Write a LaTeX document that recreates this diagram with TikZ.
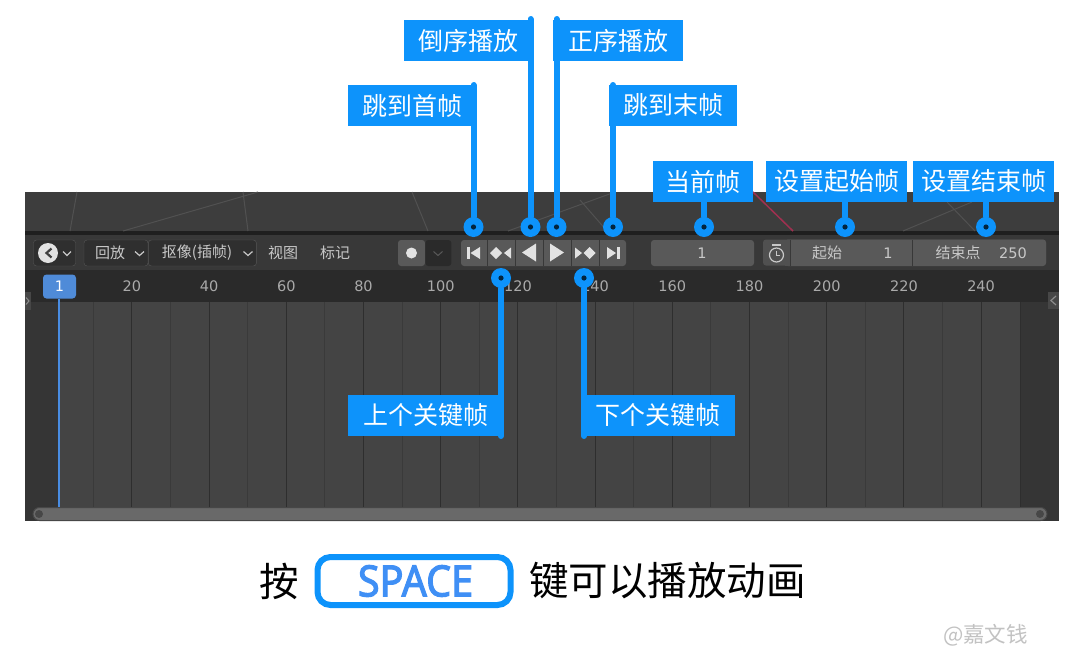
\documentclass[tikz,border=0pt]{standalone}
\usepackage{fontspec}
\usepackage{tikz}
\usetikzlibrary{positioning}
\newfontfamily\cjk{Noto Sans CJK SC}
\newfontfamily\uifont{DejaVu Sans}
\newfontfamily\keyfont[FakeBold=2.6]{Noto Sans}
\definecolor{callblue}{HTML}{0D93FB}
\definecolor{keyblue}{HTML}{3F8FF5}
\definecolor{headbg}{HTML}{3D3D3D}
\definecolor{barbg}{HTML}{383838}
\definecolor{rulerbg}{HTML}{2A2A2A}
\definecolor{trackbg}{HTML}{444444}
\definecolor{sidebg}{HTML}{353535}
\definecolor{btnbg}{HTML}{595959}
\definecolor{menubg}{HTML}{2F2F2F}
\definecolor{uitext}{HTML}{C8C8C8}
\definecolor{icontext}{HTML}{E2E2E2}
\definecolor{gridminor}{HTML}{3A3A3A}
\definecolor{gridmajor}{HTML}{2E2E2E}
\definecolor{headline}{HTML}{515151}
\definecolor{redline}{HTML}{A03050}
\begin{document}
\begin{tikzpicture}[
    x=1pt, y=-1pt,
    callout/.style={rectangle, fill=callblue, text=white, minimum height=41pt, inner sep=0pt, font=\cjk\fontsize{25}{25}\selectfont},
    leader/.style={draw=callblue, line width=6pt, line cap=round},
    pin/.style={circle, fill=callblue, minimum size=20pt, inner sep=0pt, path picture={\fill[black!75!callblue] (path picture bounding box.center) circle (2.6pt);}},
    btn/.style={rectangle, fill=btnbg, minimum height=26pt, inner sep=0pt},
    menu/.style={rectangle, rounded corners=3pt, fill=menubg, draw=barbg!85!white, minimum height=26pt, inner sep=0pt},
    uilabel/.style={text=uitext, inner sep=0pt, font=\cjk\fontsize{15}{15}\selectfont},
    number/.style={text=uitext, inner sep=0pt, font=\uifont\fontsize{14.5}{14.5}\selectfont},
    tick/.style={text=uitext!85!black, inner sep=0pt, font=\uifont\fontsize{14.5}{14.5}\selectfont},
    icon/.style={fill=icontext},
    chev/.style={draw=uitext, line width=1.2pt},
    faint/.style={draw=headline, line width=1pt}
]
\useasboundingbox (0,0) rectangle (1080,659);

% Panel background
\fill[headbg] (25,192) rectangle (1059,232);
\fill[black!88] (25,231) rectangle (1059,235);
\fill[barbg] (25,235) rectangle (1059,270);
\fill[rulerbg] (25,270) rectangle (1059,302);
\fill[sidebg] (25,302) rectangle (1059,521);
\fill[trackbg] (58.5,302) rectangle (1020,507);
\draw[gridmajor, line width=1pt] (1020.5,302) -- (1020.5,507);

% Lines in the header
\draw[faint] (77,192) -- (70,231);
\draw[faint] (258,192) -- (123,231);
\draw[faint] (243,192) -- (248,231);
\draw[faint] (412,192) -- (428,231);
\draw[faint] (580,200) -- (607,231);
\draw[faint] (508,231) -- (615,192);
\draw[faint] (903,231) -- (972,202);
\draw[faint] (947,202) -- (975,231);
\draw[redline, line width=1.5pt] (753,192) -- (793,231);

% Frame grid and ruler
\foreach \f in {10,30,...,230} \draw[gridminor, line width=1pt] ({54.7+3.86*\f},302) -- ({54.7+3.86*\f},507);
\foreach \f in {20,40,...,240} {
    \draw[gridmajor, line width=1pt] ({54.7+3.86*\f},302) -- ({54.7+3.86*\f},507);
    \node[tick] (frame\f) at ({54.7+3.86*\f},286.5) {\f};
}

% Left of the toolbar
\node[menu, minimum width=42pt] (editor) at (54.5,253) {};
\fill[icontext] (48,253) circle (10pt);
\draw[black!75, line width=2.2pt] (51.5,248.5) -- (46.5,253) -- (51.5,257.5);
\draw[chev] (63,251.5) -- (67,255.5) -- (71,251.5);
\node[menu, minimum width=64pt] (playmenu) at (116,253) {};
\node[menu, minimum width=108pt, right=0pt of playmenu] (keyingmenu) {};
\node[uilabel] (playback) at (110,253) {回放};
\node[uilabel] (keying) at (197,253) {抠像(插帧)};
\draw[chev] (135,251.5) -- (139.5,255.5) -- (144,251.5);
\draw[chev] (243.5,251.5) -- (248,255.5) -- (252.5,251.5);
\node[uilabel] (view) at (283,253) {视图};
\node[uilabel] (marker) at (335,253) {标记};

% Record button
\node[btn, rounded corners=3pt, minimum width=27pt] (record) at (411.5,253) {};
\fill[icontext] (record.center) circle (5.5pt);
\node[btn, fill=barbg!75!black, rounded corners=3pt, minimum width=26pt, right=0pt of record] (recordopt) {};
\draw[draw=btnbg, line width=1pt] (433.5,251.5) -- (438,255.5) -- (442.5,251.5);

% Transport buttons
\node[btn, rounded corners=3pt, minimum width=165pt] (transport) at (543.5,253) {};
\foreach \x in {487,515,543,571,599} \draw[barbg, line width=1pt] (\x,240) -- (\x,266);
\fill[icon] (466.7,247) rectangle (470,259);
\fill[icon] (470.5,253) -- (480,247) -- (480,259) -- cycle;
\fill[icon] (496,247) -- (502,253) -- (496,259) -- (490,253) -- cycle;
\fill[icon] (504,253) -- (511,247.5) -- (511,258.5) -- cycle;
\fill[icon] (522,252.5) -- (536,243.5) -- (536,261.5) -- cycle;
\fill[icon] (564,252.5) -- (550,243.5) -- (550,261.5) -- cycle;
\fill[icon] (582,253) -- (575,247.5) -- (575,258.5) -- cycle;
\fill[icon] (589.5,247) -- (595.5,253) -- (589.5,259) -- (583.5,253) -- cycle;
\fill[icon] (616,253) -- (607,247) -- (607,259) -- cycle;
\fill[icon] (617,247) rectangle (620,259);

% Frame fields
\node[btn, rounded corners=3pt, minimum width=103pt] (current) at (702.5,253) {};
\node[number] (currentval) at (702,253) {1};
\node[btn, fill=barbg!88!white, rounded corners=3pt, minimum width=283pt] (range) at (904.5,252.5) {};
\fill[btnbg, rounded corners=3pt] (785,239.5) rectangle (1046,266);
\fill[barbg!88!white] (785,239.5) rectangle (790,266);
\draw[barbg, line width=1pt] (790,240) -- (790,266);
\draw[barbg, line width=1pt] (912,240) -- (912,266);
\draw[uitext, line width=1.2pt] (776.5,255) circle (7pt);
\draw[uitext, line width=1.2pt] (776.5,250.5) -- (776.5,255.5) -- (780,255.5);
\draw[uitext, line width=1.2pt] (772,245) -- (781,245);
\node[uilabel] (startlabel) at (827,253) {起始};
\node[number] (startval) at (888,253) {1};
\node[uilabel] (endlabel) at (958,253) {结束点};
\node[number] (endval) at (1013,253) {250};

% Side arrows
\fill[black!72] (25,292) rectangle (31,310);
\draw[uitext!70!black, line width=1pt] (26,297.5) -- (29,301) -- (26,304.5);
\fill[black!72] (1048,292) rectangle (1059,309);
\draw[uitext!70!black, line width=1.2pt] (1056,296) -- (1051,300.5) -- (1056,305);

% Scroll bar
\node[rectangle, rounded corners=6.5pt, fill=white!41!black, draw=black!72, line width=1pt, minimum width=1014pt, minimum height=13pt, inner sep=0pt] (scroll) at (540,514) {};
\fill[black!72] (39,514) circle (4pt);
\fill[black!72] (1040,514) circle (4pt);

% Playhead
\node[rectangle, rounded corners=3.5pt, fill=keyblue!75!gray, text=white, minimum width=33pt, minimum height=24pt, inner sep=0pt, font=\uifont\fontsize{14.5}{14.5}\selectfont] (playhead) at (59.5,286.5) {1};
\coordinate (playfoot) at (58.5,507);
\draw[keyblue!85!gray, line width=2pt] (playhead.south -| playfoot) -- (playfoot);

% Callouts
\node[callout, minimum width=129pt] (boxfirst) at (412.5,105.5) {跳到首帧};
\node[callout, minimum width=130pt] (boxback) at (468.5,40.5) {倒序播放};
\node[callout, minimum width=130pt] (boxplay) at (618,40.5) {正序播放};
\node[callout, minimum width=128pt] (boxlast) at (673,105.5) {跳到末帧};
\node[callout, minimum width=100pt] (boxcurrent) at (703,181.5) {当前帧};
\node[callout, minimum width=141pt] (boxstart) at (836.5,181.5) {设置起始帧};
\node[callout, minimum width=141pt] (boxend) at (983.5,181.5) {设置结束帧};
\node[callout, minimum width=155pt] (boxprev) at (425.5,415.5) {上个关键帧};
\node[callout, minimum width=154pt] (boxnext) at (658,415.5) {下个关键帧};

% Pins
\node[pin] (pinfirst) at (473.5,227) {};
\node[pin] (pinback) at (530.5,227) {};
\node[pin] (pinplay) at (556.5,227) {};
\node[pin] (pinlast) at (613,227) {};
\node[pin] (pincurrent) at (704,227) {};
\node[pin] (pinstart) at (845,227) {};
\node[pin] (pinend) at (986,227) {};
\node[pin] (pinprev) at (501,278) {};
\node[pin] (pinnext) at (584,278) {};

\coordinate (topfirst) at (473.5,85);
\coordinate (topback) at (530.5,19);
\coordinate (topplay) at (556.5,19);
\coordinate (toplast) at (613,85);
\coordinate (endprev) at (501,436);
\coordinate (endnext) at (584,436);

% Leaders
\draw[leader] (pinfirst) -- (topfirst);
\draw[leader] (pinback) -- (topback);
\draw[leader] (pinplay) -- (topplay);
\draw[leader] (pinlast) -- (toplast);
\draw[leader] (pincurrent) -- (pincurrent |- boxcurrent.south);
\draw[leader] (pinstart) -- (pinstart |- boxstart.south);
\draw[leader] (pinend) -- (pinend |- boxend.south);
\draw[leader] (pinprev) -- (endprev);
\draw[leader] (pinnext) -- (endnext);

% Bottom sentence
\node[inner sep=0pt, font=\cjk\fontsize{39.5}{39.5}\selectfont] (press) at (279.5,581) {按};
\node[rectangle, rounded corners=13pt, draw=callblue, line width=6pt, minimum width=193pt, minimum height=48pt, inner sep=0pt] (spacekey) at (414,581) {};
\node[inner sep=0pt, text=keyblue, font=\keyfont\fontsize{43}{43}\selectfont, xscale=0.92] (spacetext) at (415.5,581) {SPACE};
\node[inner sep=0pt, font=\cjk\fontsize{39.5}{39.5}\selectfont] (sentence) at (667.5,581) {键可以播放动画};
\node[inner sep=0pt, text=black!24, font=\cjk\fontsize{21.5}{21.5}\selectfont] (mark) at (985.5,635) {@嘉文钱};

\end{tikzpicture}
\end{document}
